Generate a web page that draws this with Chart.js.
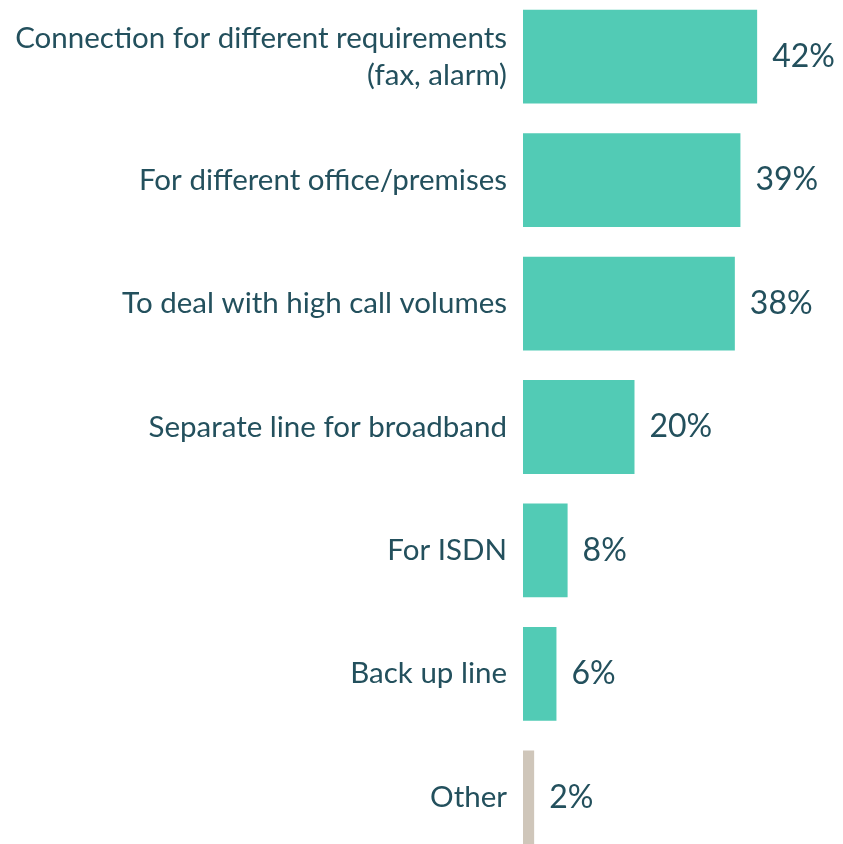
<!DOCTYPE html>
<html>
<head>
<meta charset="utf-8">
<script src="https://cdn.jsdelivr.net/npm/chart.js@4.4.1/dist/chart.umd.min.js"></script>
<style>
    html, body { margin: 0; padding: 0; background: #fff; overflow: hidden; }
    #wrap { position: absolute; left: 0; top: -5px; width: 843px; height: 864px; }
</style>
</head>
<body>
<div id="wrap"><canvas id="graficoBarras"></canvas></div>
<script>
// motivos para uma linha adicional
const categorias = [
    ['Connection for different requirements', '(fax, alarm)'],
    'For different office/premises',
    'To deal with high call volumes',
    'Separate line for broadband',
    'For ISDN',
    'Back up line',
    'Other'
];
const valores = [42, 39, 38, 20, 8, 6, 2];
const cores = ['#52CBB5', '#52CBB5', '#52CBB5', '#52CBB5', '#52CBB5', '#52CBB5', '#CFC6BA'];

const corTexto = '#23505D';

// escreve o valor ao lado de cada barra
const rotulosValor = {
    id: 'rotulosValor',
    afterDatasetsDraw(chart) {
        const ctx = chart.ctx;
        const meta = chart.getDatasetMeta(0);
        ctx.save();
        ctx.font = '32px Lato';
        ctx.fillStyle = corTexto;
        ctx.textAlign = 'left';
        ctx.textBaseline = 'middle';
        meta.data.forEach((bar, i) => {
            ctx.fillText(valores[i] + '%', bar.x + 15, bar.y);
        });
        ctx.restore();
    }
};

const ctx = document.getElementById('graficoBarras').getContext('2d');
new Chart(ctx, {
    type: 'bar',
    data: {
        labels: categorias,
        datasets: [{
            data: valores,
            backgroundColor: cores,
            borderWidth: 0,
            categoryPercentage: 1,
            barPercentage: 0.76
        }]
    },
    options: {
        indexAxis: 'y',
        responsive: true,
        maintainAspectRatio: false,
        animation: false,
        layout: { padding: 0 },
        plugins: {
            legend: { display: false },
            tooltip: { enabled: false }
        },
        scales: {
            x: {
                display: false,
                min: 0,
                max: 57.4
            },
            y: {
                afterFit: (scale) => {
                    scale.width = 523;
                    scale.paddingTop = 0;
                    scale.paddingBottom = 0;
                },
                grid: { display: false, drawTicks: false },
                border: { display: false },
                ticks: {
                    color: corTexto,
                    padding: 16,
                    font: { family: 'Lato', size: 29.5, lineHeight: 1.25 }
                }
            }
        }
    },
    plugins: [rotulosValor]
});
</script>
</body>
</html>
